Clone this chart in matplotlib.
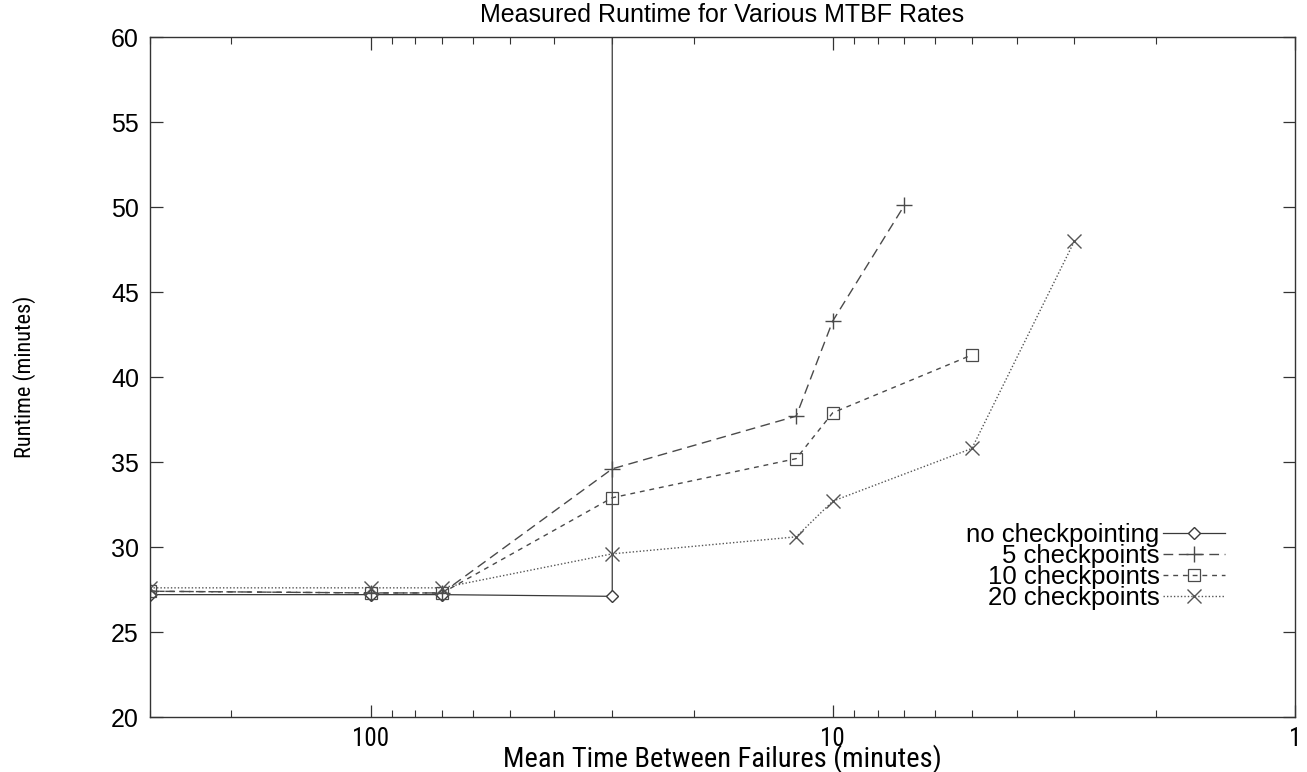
import matplotlib
matplotlib.use("Agg")
import matplotlib.pyplot as plt
from matplotlib import font_manager

# данные
mtbf_nocp = [300, 100, 70, 30, 30]
run_nocp = [27.2, 27.2, 27.2, 27.1, 1000]

mtbf_5 = [300, 100, 70, 30, 12, 10, 7]
run_5 = [27.4, 27.3, 27.3, 34.6, 37.7, 43.3, 50.1]

mtbf_10 = [300, 100, 70, 30, 12, 10, 5]
run_10 = [27.4, 27.3, 27.3, 32.9, 35.2, 37.9, 41.3]

mtbf_20 = [300, 100, 70, 30, 12, 10, 5, 3]
run_20 = [27.6, 27.6, 27.6, 29.6, 30.6, 32.7, 35.8, 48.0]

xticks = [100, 10, 1]
xtick_labels = ['100', '10', '1']
yticks = [20, 25, 30, 35, 40, 45, 50, 55, 60]

# узкий шрифт для подписей осей (как Helvetica Narrow), если найдётся
narrow_path = None
fonts = font_manager.fontManager.ttflist
for want in ['Liberation Sans Narrow', 'Roboto Condensed']:
    for f in fonts:
        if f.name == want and f.weight in (400, 'normal', 'regular') and f.style == 'normal':
            narrow_path = f.fname
            break
    if narrow_path:
        break
if narrow_path is None:
    for f in fonts:
        if 'condensed' in str(f.stretch) and f.style == 'normal' and f.weight in (400, 'normal'):
            narrow_path = f.fname
            break


def narrow(size):
    if narrow_path:
        return font_manager.FontProperties(fname=narrow_path, size=size)
    return font_manager.FontProperties(family='Liberation Sans', size=size * 0.88)


plt.rcParams['font.family'] = ['Liberation Sans', 'DejaVu Sans']

fig = plt.figure(figsize=(13.07, 7.72), dpi=100)
ax = fig.add_axes([0.1148, 0.0712, 0.876, 0.8808])

ax.plot(mtbf_nocp, run_nocp, '-', color='#3a3a3a', lw=0.9, marker='D', ms=6,
        mfc='white', mec='#3a3a3a', label='no checkpointing')
ax.plot(mtbf_5, run_5, color='#4a4a4a', lw=1.0, ls=(0, (7, 4)), marker='+', ms=11,
        mew=1.0, label='5 checkpoints')
ax.plot(mtbf_10, run_10, color='#4a4a4a', lw=1.0, ls=(0, (3.5, 3.5)), marker='s', ms=9,
        mfc='none', mec='#4a4a4a', mew=0.9, label='10 checkpoints')
ax.plot(mtbf_20, run_20, color='#555555', lw=1.0, ls=(0, (1, 1.5)), marker='x', ms=10,
        mew=1.0, label='20 checkpoints')

ax.set_xscale('log')
ax.set_xlim(300, 1)
ax.set_ylim(20, 60)
ax.set_xticks(xticks)
ax.set_xticklabels(xtick_labels, fontproperties=narrow(18))
ax.set_yticks(yticks)
ax.tick_params(axis='y', labelsize=18)
ax.tick_params(which='both', direction='in', top=True, right=True, color='#333333')
ax.tick_params(which='major', length=9, width=0.9)
ax.tick_params(which='minor', length=5, width=0.8)
ax.tick_params(axis='x', pad=7)
ax.tick_params(axis='y', pad=8)
for s in ax.spines.values():
    s.set_color('#333333')
    s.set_linewidth(1.0)

ax.set_title('Measured Runtime for Various MTBF Rates', fontsize=18, pad=11)
ax.set_xlabel('Mean Time Between Failures (minutes)', fontproperties=narrow(20.5), labelpad=-5)
ax.set_ylabel('Runtime (minutes)', fontproperties=narrow(16), labelpad=54)

ax.legend(loc='upper right', bbox_to_anchor=(0.939, 0.285), frameon=False, fontsize=18.5,
          markerfirst=False, numpoints=1, handlelength=2.4, handletextpad=0.15,
          labelspacing=-0.12, borderpad=0, borderaxespad=0)

fig.savefig('out.png', dpi=100)
